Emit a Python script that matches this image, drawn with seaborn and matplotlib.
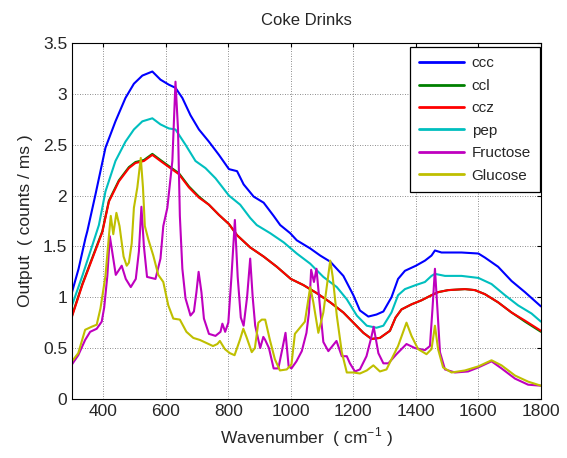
import numpy as np
import pandas as pd
import matplotlib
matplotlib.use("Agg")
import matplotlib.pyplot as plt
from matplotlib.ticker import FuncFormatter
import seaborn as sns

# ---------------- data ----------------
ccc_x = [300, 321, 343, 349, 375, 407, 439, 471, 498, 525, 557, 583, 610, 631, 653, 679, 706, 738, 770, 802,
         828, 849, 881, 913, 945, 966, 998, 1019, 1062, 1094, 1126, 1168, 1200, 1221, 1248, 1274, 1296, 1322,
         1343, 1365, 1400, 1429, 1450, 1461, 1482, 1546, 1600, 1621, 1663, 1706, 1749, 1800]
ccc_y = [1.05, 1.28, 1.58, 1.65, 2.01, 2.47, 2.73, 2.96, 3.10, 3.18, 3.22, 3.14, 3.09, 3.06, 2.96, 2.79, 2.65, 2.53, 2.40, 2.26,
         2.24, 2.11, 1.99, 1.93, 1.80, 1.71, 1.63, 1.56, 1.48, 1.41, 1.35, 1.21, 1.02, 0.87, 0.81, 0.83, 0.86, 1.00,
         1.18, 1.26, 1.31, 1.36, 1.41, 1.46, 1.44, 1.44, 1.43, 1.39, 1.30, 1.16, 1.05, 0.91]

pep_x = [300, 333, 365, 386, 407, 439, 471, 498, 525, 557, 583, 610, 631, 663, 695, 727, 759, 802, 838, 870,
         891, 934, 977, 1019, 1062, 1104, 1147, 1179, 1211, 1243, 1274, 1296, 1322, 1343, 1365, 1400, 1429,
         1450, 1461, 1493, 1546, 1600, 1642, 1685, 1727, 1770, 1800]
pep_y = [0.92, 1.21, 1.51, 1.71, 2.04, 2.34, 2.53, 2.65, 2.73, 2.76, 2.70, 2.66, 2.65, 2.50, 2.34, 2.27, 2.17, 2.00, 1.91, 1.78,
         1.71, 1.63, 1.54, 1.43, 1.33, 1.20, 1.10, 0.98, 0.82, 0.72, 0.70, 0.72, 0.85, 1.02, 1.08, 1.12, 1.15,
         1.21, 1.23, 1.21, 1.21, 1.19, 1.13, 1.02, 0.92, 0.84, 0.76]

ccz_x = [300, 333, 365, 397, 418, 450, 482, 503, 530, 557, 583, 610, 642, 674, 706, 738, 770, 802, 828, 870,
         913, 955, 1000, 1040, 1083, 1126, 1168, 1200, 1232, 1258, 1285, 1317, 1335, 1354, 1386, 1418, 1450,
         1471, 1503, 1557, 1589, 1621, 1663, 1706, 1749, 1800]
ccz_y = [0.81, 1.12, 1.38, 1.64, 1.94, 2.14, 2.27, 2.32, 2.34, 2.40, 2.34, 2.28, 2.21, 2.08, 1.98, 1.91, 1.81, 1.72, 1.61, 1.49,
         1.40, 1.30, 1.18, 1.12, 1.04, 0.95, 0.85, 0.75, 0.65, 0.59, 0.60, 0.67, 0.80, 0.88, 0.93, 0.97, 1.02,
         1.05, 1.07, 1.08, 1.07, 1.03, 0.95, 0.85, 0.77, 0.67]
ccl_x = ccz_x
ccl_y = [0.82, 1.13, 1.39, 1.65, 1.95, 2.15, 2.28, 2.33, 2.35, 2.41, 2.35, 2.29, 2.22, 2.09, 1.99, 1.91, 1.81, 1.72, 1.61, 1.49,
         1.40, 1.30, 1.18, 1.12, 1.04, 0.95, 0.85, 0.75, 0.65, 0.59, 0.60, 0.67, 0.80, 0.88, 0.93, 0.97, 1.02,
         1.05, 1.07, 1.08, 1.07, 1.03, 0.95, 0.85, 0.76, 0.66]

fru_x = [300, 320, 342, 358, 379, 395, 403, 413, 421, 430, 440, 459, 472, 488, 504, 514, 522, 530, 540, 567,
         583, 592, 605, 621, 631, 639, 645, 653, 663, 679, 690, 698, 705, 714, 722, 738, 759, 775, 781, 790,
         800, 810, 821, 830, 840, 849, 860, 870, 878, 886, 902, 912, 918, 930, 945, 960, 972, 983, 993, 1002,
         1018, 1035, 1050, 1058, 1065, 1074, 1082, 1094, 1104, 1120, 1146, 1163, 1179, 1189, 1205, 1221, 1242,
         1257, 1265, 1280, 1296, 1312, 1338, 1370, 1397, 1429, 1445, 1453, 1461, 1469, 1477, 1493, 1525, 1567,
         1600, 1642, 1674, 1717, 1759, 1800]
fru_y = [0.34, 0.43, 0.58, 0.66, 0.69, 0.76, 0.90, 1.21, 1.60, 1.42, 1.22, 1.31, 1.18, 1.10, 1.18, 1.45, 1.89, 1.50, 1.20, 1.18,
         1.38, 1.70, 1.88, 2.34, 3.12, 2.66, 1.80, 1.28, 0.99, 0.82, 0.86, 1.05, 1.25, 1.05, 0.79, 0.64, 0.62, 0.66, 0.74, 0.66,
         0.75, 1.20, 1.76, 1.20, 0.80, 0.72, 1.00, 1.38, 1.00, 0.72, 0.50, 0.61, 0.58, 0.50, 0.30, 0.30, 0.48, 0.65, 0.32, 0.30,
         0.37, 0.47, 0.65, 0.85, 1.27, 1.15, 1.28, 0.88, 0.56, 0.47, 0.57, 0.42, 0.42, 0.35, 0.27, 0.29, 0.42,
         0.60, 0.71, 0.45, 0.35, 0.35, 0.44, 0.54, 0.50, 0.48, 0.52, 0.88, 1.28, 0.88, 0.46, 0.29, 0.26, 0.27,
         0.31, 0.37, 0.30, 0.20, 0.14, 0.13]

glu_x = [300, 320, 342, 363, 379, 391, 407, 418, 424, 432, 442, 452, 465, 475, 482, 491, 498, 509, 520, 527,
         533, 544, 560, 576, 592, 608, 624, 645, 666, 688, 709, 730, 751, 765, 773, 789, 805, 820, 837, 848,
         858, 875, 885, 896, 907, 918, 933, 949, 965, 987, 1002, 1013, 1029, 1045, 1062, 1072, 1088, 1104, 1126,
         1134, 1147, 1163, 1179, 1200, 1221, 1243, 1264, 1285, 1306, 1322, 1343, 1370, 1386, 1407, 1434, 1450,
         1461, 1471, 1487, 1514, 1557, 1600, 1642, 1674, 1717, 1759, 1800]
glu_y = [0.37, 0.45, 0.68, 0.71, 0.73, 0.89, 1.21, 1.60, 1.80, 1.62, 1.83, 1.70, 1.40, 1.31, 1.34, 1.53, 1.88, 2.08, 2.37, 2.08,
         1.70, 1.57, 1.41, 1.22, 1.15, 0.92, 0.79, 0.78, 0.66, 0.60, 0.58, 0.55, 0.52, 0.54, 0.57, 0.49, 0.45, 0.43, 0.58, 0.69,
         0.61, 0.46, 0.50, 0.75, 0.78, 0.78, 0.58, 0.39, 0.28, 0.29, 0.34, 0.64, 0.70, 0.76, 1.10, 0.95, 0.65, 0.85, 1.36,
         1.20, 0.82, 0.46, 0.26, 0.26, 0.25, 0.28, 0.33, 0.27, 0.29, 0.39, 0.52, 0.75, 0.62, 0.49, 0.44, 0.49,
         0.72, 0.49, 0.31, 0.26, 0.28, 0.32, 0.38, 0.33, 0.23, 0.17, 0.13]

series_names = ["ccc", "ccl", "ccz", "pep", "Fructose", "Glucose"]
series_x = [ccc_x, ccl_x, ccz_x, pep_x, fru_x, glu_x]
series_y = [ccc_y, ccl_y, ccz_y, pep_y, fru_y, glu_y]
colors = ["#0000ff", "#008000", "#ff0000", "#00bfbf", "#bf00bf", "#bfbf00"]

xticks = [400, 600, 800, 1000, 1200, 1400, 1600, 1800]
yticks = [0, 0.5, 1, 1.5, 2, 2.5, 3, 3.5]

# ---------------- plotting ----------------
sns.set_style("white")
plt.rcParams["font.family"] = ["Liberation Sans", "DejaVu Sans"]
plt.rcParams["mathtext.fontset"] = "custom"
plt.rcParams["mathtext.rm"] = "Liberation Sans"

frames = []
for n, xs, ys in zip(series_names, series_x, series_y):
    frames.append(pd.DataFrame({"Wavenumber": xs, "Output": ys, "series": n}))
df = pd.concat(frames, ignore_index=True)

fig = plt.figure(figsize=(5.67, 4.58), dpi=100)
ax = fig.add_axes([0.127, 0.129, 0.827, 0.777])

sns.lineplot(data=df, x="Wavenumber", y="Output", hue="series", hue_order=series_names,
             palette=colors, estimator=None, linewidth=1.5, ax=ax, legend=True)

ax.set_xlim(300, 1800)
ax.set_ylim(0, 3.5)
ax.set_xticks(xticks)
ax.set_yticks(yticks)
ax.yaxis.set_major_formatter(FuncFormatter(lambda v, p: f"{v:g}"))
ax.tick_params(direction="in", length=3, top=True, right=True, labelsize=12.5, color="black", width=0.8)
ax.grid(True, color="black", linestyle=(0, (1, 2)), linewidth=0.6, alpha=0.6)
for s in ax.spines.values():
    s.set_color("black")
    s.set_linewidth(0.8)

ax.set_title("Coke Drinks", fontsize=12, pad=13)
ax.set_xlabel("Wavenumber  ( cm$^{-1}$ )", fontsize=12.5, labelpad=5)
ax.set_ylabel("Output  ( counts / ms )", fontsize=12.5, labelpad=7)

leg = ax.legend(loc="upper right", fontsize=11, frameon=True, fancybox=False, framealpha=1,
                edgecolor="black", handlelength=2.95, handletextpad=0.5, borderpad=0.6, labelspacing=0.55,
                borderaxespad=0.0, bbox_to_anchor=(0.998, 0.988))
leg.get_frame().set_linewidth(0.9)
for line in leg.get_lines():
    line.set_linewidth(2)

fig.savefig("out.png", dpi=100)
